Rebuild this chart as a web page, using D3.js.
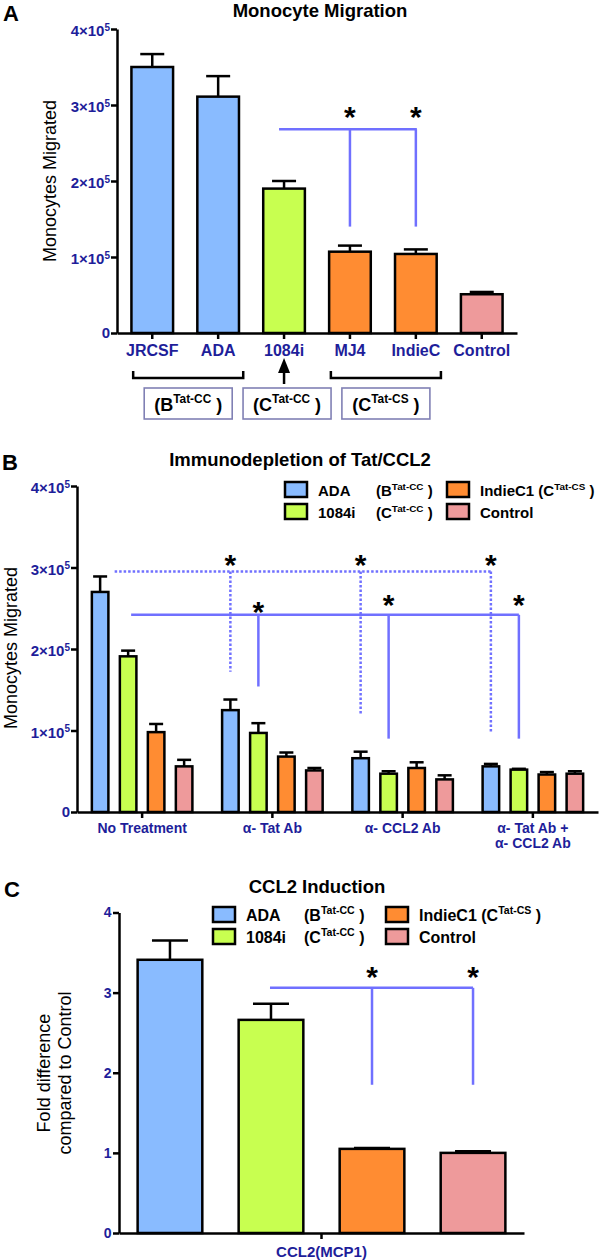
<!DOCTYPE html>
<html>
<head>
<meta charset="utf-8">
<script src="https://cdn.jsdelivr.net/npm/d3@7"></script>
<style>
  body { margin: 0; background: #fff; }
  svg { display: block; font-family: "Liberation Sans", Arial, Helvetica, sans-serif; }
</style>
</head>
<body>
<svg id="chart" width="600" height="1260"></svg>
<script>
// ---- panel A: monocyte migration per strain
const strainsA = ["JRCSF", "ADA", "1084i", "MJ4", "IndieC", "Control"];
const meanA = [3.50e5, 3.11e5, 1.90e5, 1.07e5, 1.04e5, 0.51e5];
const semA = [0.17e5, 0.27e5, 0.10e5, 0.08e5, 0.06e5, 0.03e5];
const ticksA = [0, 1e5, 2e5, 3e5, 4e5];
const subtypeGroupsA = [
  { first: "JRCSF", last: "ADA", base: "B", sup: "Tat-CC" },
  { first: "1084i", last: "1084i", base: "C", sup: "Tat-CC" },
  { first: "MJ4", last: "IndieC", base: "C", sup: "Tat-CS" }
];
const sigA = { from: "1084i", to: ["MJ4", "IndieC"], level: 2.68e5, drop: 1.40e5, star: 2.92e5 };

// ---- panel B: immunodepletion
const treatmentsB = ["No Treatment", "α- Tat Ab", "α- CCL2 Ab", "α- Tat Ab +|α- CCL2 Ab"];
const seriesB = ["ADA", "1084i", "IndieC1", "Control"];
const meanB = [
  [2.70e5, 1.91e5, 0.98e5, 0.56e5],
  [1.25e5, 0.97e5, 0.68e5, 0.51e5],
  [0.66e5, 0.47e5, 0.54e5, 0.40e5],
  [0.56e5, 0.52e5, 0.46e5, 0.47e5]
];
const semB = [
  [0.19e5, 0.07e5, 0.10e5, 0.08e5],
  [0.13e5, 0.12e5, 0.05e5, 0.03e5],
  [0.08e5, 0.03e5, 0.07e5, 0.05e5],
  [0.03e5, 0.01e5, 0.03e5, 0.03e5]
];
const ticksB = [0, 1e5, 2e5, 3e5, 4e5];
const sigDottedB = { series: "ADA", level: 2.95e5, drops: [1.72e5, 1.19e5, 0.97e5], star: 3.10e5 };
const sigSolidB = { series: "1084i", level: 2.42e5, drops: [1.54e5, 0.90e5, 0.90e5], stars: [2.53e5, 2.61e5, 2.61e5] };

// ---- panel C: CCL2 induction
const seriesC = ["ADA", "1084i", "IndieC1", "Control"];
const meanC = [3.41, 2.66, 1.05, 1.00];
const semC = [0.24, 0.20, 0.01, 0.02];
const ticksC = [0, 1, 2, 3, 4];
const categoryC = "CCL2(MCP1)";
const sigC = { from: "1084i", to: ["IndieC1", "Control"], level: 3.06, drop: 1.85, star: 3.27 };

// legend entries (B and C share them)
const legendTags = [
  { name: "ADA", base: "B", sup: "Tat-CC" },
  { name: "1084i", base: "C", sup: "Tat-CC" },
  { name: "IndieC1", base: "C", sup: "Tat-CS" },
  { name: "Control" }
];

const NAVY = "#1e1e9a";
const SIG = "#7070ff";
const fillOf = {
  JRCSF: "#89bbff", ADA: "#89bbff", "1084i": "#c8ff50",
  MJ4: "#ff8c32", IndieC: "#ff8c32", IndieC1: "#ff8c32", Control: "#ee9a9b"
};

const svg = d3.select("#chart");

function styleAxis(g, size) {
  g.attr("font-family", null).attr("font-size", null);
  g.select(".domain").attr("stroke", "#000").attr("stroke-width", 2.5);
  g.selectAll(".tick line").attr("stroke", "#000").attr("stroke-width", 2.5);
  g.selectAll(".tick text").attr("fill", NAVY).attr("font-weight", "bold").style("font-size", size + "px");
}

function sciLabels(g) {
  g.selectAll(".tick text").each(function (d) {
    if (d === 0) return;
    const t = d3.select(this).text(null).attr("dy", "0.45em");
    t.append("tspan").text(`${d / 1e5}×10`);
    t.append("tspan").style("font-size", "10px").attr("dy", "-0.55em").text("5");
  });
}

function tagText(sel, x, y, size, base, sup, anchor) {
  const t = sel.append("text")
    .attr("x", x).attr("y", y)
    .attr("font-size", size).attr("font-weight", "bold")
    .attr("text-anchor", anchor || "start");
  t.append("tspan").text(base);
  t.append("tspan").attr("font-size", size * 0.66).attr("dy", -size * 0.42).text(sup);
  t.append("tspan").attr("dy", size * 0.42).text(" )");
  return t;
}

function bars(g, data, y, capW) {
  g.selectAll("rect.bar").data(data).join("rect")
    .attr("class", "bar")
    .attr("x", d => d.x + 1.25)
    .attr("y", d => y(d.v))
    .attr("width", d => d.w - 2.5)
    .attr("height", d => y(0) - y(d.v))
    .attr("fill", d => fillOf[d.key])
    .attr("stroke", "#000")
    .attr("stroke-width", 2.5);
  const e = g.selectAll("g.err").data(data).join("g").attr("class", "err")
    .attr("stroke", "#000").attr("stroke-width", 2.5);
  e.append("line")
    .attr("x1", d => d.x + d.w / 2).attr("x2", d => d.x + d.w / 2)
    .attr("y1", d => y(d.v)).attr("y2", d => y(d.v + d.e));
  e.append("line")
    .attr("x1", d => d.x + d.w / 2 - capW / 2).attr("x2", d => d.x + d.w / 2 + capW / 2)
    .attr("y1", d => y(d.v + d.e)).attr("y2", d => y(d.v + d.e));
}

function star(g, x, y) {
  g.append("text").attr("x", x).attr("y", y + 16)
    .attr("text-anchor", "middle").attr("font-size", 30).attr("font-weight", "bold")
    .text("*");
}

function title(g, x, y, txt) {
  g.append("text").attr("x", x).attr("y", y).attr("text-anchor", "middle")
    .attr("font-size", 18.5).attr("font-weight", "bold").text(txt);
}

function panelLetter(g, x, y, txt) {
  g.append("text").attr("x", x).attr("y", y).attr("font-size", 22).attr("font-weight", "bold").text(txt);
}

function yTitle(g, x, y, lines) {
  const t = g.append("text").attr("transform", `translate(${x},${y}) rotate(-90)`)
    .attr("text-anchor", "middle").attr("font-size", 18);
  lines.forEach((l, i) => t.append("tspan").attr("x", 0).attr("dy", i ? 21 : 0).text(l));
}

function legend(g, x, y, colGap, nameGap, tagGap, size) {
  legendTags.forEach((d, i) => {
    const col = Math.floor(i / 2), row = i % 2;
    const gx = x + col * colGap, gy = y + row * 22;
    g.append("rect").attr("x", gx).attr("y", gy).attr("width", 22).attr("height", 15)
      .attr("fill", fillOf[d.name]).attr("stroke", "#000").attr("stroke-width", 2.5);
    if (!d.sup) {
      g.append("text").attr("x", gx + nameGap).attr("y", gy + 14).attr("font-size", size)
        .attr("font-weight", "bold").text(d.name);
    } else if (col === 0) {
      g.append("text").attr("x", gx + nameGap).attr("y", gy + 14).attr("font-size", size)
        .attr("font-weight", "bold").text(d.name);
      tagText(g, gx + tagGap, gy + 14, size, "(" + d.base, d.sup);
    } else {
      tagText(g, gx + nameGap, gy + 14, size, d.name + " (" + d.base, d.sup);
    }
  });
}

// ================= Panel A =================
const gA = svg.append("g");
panelLetter(gA, 3, 21, "A");
title(gA, 320, 17, "Monocyte Migration");

const yA = d3.scaleLinear().domain([0, 4e5]).range([333, 29]);
const xA = d3.scaleBand().domain(strainsA).range([117, 517]).paddingInner(0.33).paddingOuter(0.2);

bars(gA, strainsA.map((k, i) => ({ key: k, x: xA(k), w: xA.bandwidth(), v: meanA[i], e: semA[i] })), yA, 24);

gA.append("g").attr("transform", "translate(117,0)")
  .call(d3.axisLeft(yA).tickValues(ticksA).tickSize(6).tickSizeOuter(0).tickPadding(1))
  .call(g => styleAxis(g, 15)).call(sciLabels);
gA.append("g").attr("transform", "translate(0,333)")
  .call(d3.axisBottom(xA).tickSize(6).tickSizeOuter(0).tickPadding(6))
  .call(g => styleAxis(g, 16));
yTitle(gA, 56, 181, ["Monocytes Migrated"]);

// significance bracket A
{
  const cx = k => xA(k) + xA.bandwidth() / 2;
  const s = gA.append("g").attr("stroke", SIG).attr("stroke-width", 2.5).attr("fill", "none");
  s.append("line").attr("x1", cx(sigA.from) - 5).attr("x2", cx(sigA.to[1]) + 1)
    .attr("y1", yA(sigA.level)).attr("y2", yA(sigA.level));
  sigA.to.forEach(k => {
    s.append("line").attr("x1", cx(k)).attr("x2", cx(k)).attr("y1", yA(sigA.level)).attr("y2", yA(sigA.drop));
    star(gA, cx(k), yA(sigA.star));
  });
}

// subtype brackets under the axis
subtypeGroupsA.forEach(d => {
  const x0 = xA(d.first) + 3, x1 = xA(d.last) + xA.bandwidth() + 3;
  const mid = (xA(d.first) + xA(d.last) + xA.bandwidth()) / 2;
  if (d.first !== d.last) {
    gA.append("path").attr("d", `M${x0},371V378H${x1}V371`)
      .attr("fill", "none").attr("stroke", "#000").attr("stroke-width", 2.5);
  } else {
    gA.append("line").attr("x1", mid).attr("x2", mid).attr("y1", 384).attr("y2", 370)
      .attr("stroke", "#000").attr("stroke-width", 2.5);
    gA.append("path").attr("d", `M${mid},358L${mid + 6},373L${mid - 6},373Z`).attr("fill", "#000");
  }
  const bx = mid + 3;
  gA.append("rect").attr("x", bx - 44).attr("y", 388).attr("width", 88).attr("height", 31)
    .attr("fill", "none").attr("stroke", "#8080b4").attr("stroke-width", 1.6);
  tagText(gA, bx, 411, 18, "(" + d.base, d.sup, "middle");
});

// ================= Panel B =================
const gB = svg.append("g");
panelLetter(gB, 2, 470, "B");
title(gB, 300, 466, "Immunodepletion of Tat/CCL2");
legend(gB, 285, 482, 162, 33, 91, 15);

const yB = d3.scaleLinear().domain([0, 4e5]).range([812, 486]);
const x0B = d3.scaleBand().domain(treatmentsB).range([77, 598]);
const x1B = d3.scaleBand().domain(seriesB).range([0, x0B.bandwidth()]).paddingInner(0.32).paddingOuter(0.486);

const flatB = [];
treatmentsB.forEach((t, i) => seriesB.forEach((s, j) => {
  flatB.push({ key: s, x: x0B(t) + x1B(s), w: x1B.bandwidth(), v: meanB[i][j], e: semB[i][j] });
}));
bars(gB, flatB, yB, 14);

gB.append("g").attr("transform", "translate(77,0)")
  .call(d3.axisLeft(yB).tickValues(ticksB).tickSize(6).tickSizeOuter(0).tickPadding(1))
  .call(g => styleAxis(g, 15)).call(sciLabels);
gB.append("g").attr("transform", "translate(0,812)")
  .call(d3.axisBottom(x0B).tickSize(6).tickSizeOuter(0).tickPadding(5))
  .call(g => styleAxis(g, 14))
  .call(g => g.selectAll(".tick text").each(function (d) {
    const t = d3.select(this).text(null);
    d.split("|").forEach((l, i) => t.append("tspan").attr("x", 0).attr("dy", i ? "1.1em" : "0.71em").text(l));
  }).attr("dy", null));
yTitle(gB, 17, 648, ["Monocytes Migrated"]);

// significance lines B
{
  const cx = (t, s) => x0B(t) + x1B(s) + x1B.bandwidth() / 2;
  const dot = gB.append("g").attr("stroke", SIG).attr("stroke-width", 2.5).attr("stroke-dasharray", "2.5,2").attr("fill", "none");
  dot.append("line")
    .attr("x1", x0B(treatmentsB[0]) + x1B(sigDottedB.series) + x1B.bandwidth() + 5)
    .attr("x2", cx(treatmentsB[3], sigDottedB.series))
    .attr("y1", yB(sigDottedB.level)).attr("y2", yB(sigDottedB.level));
  const sol = gB.append("g").attr("stroke", SIG).attr("stroke-width", 2.5).attr("fill", "none");
  sol.append("line")
    .attr("x1", cx(treatmentsB[0], sigSolidB.series) + 3)
    .attr("x2", cx(treatmentsB[3], sigSolidB.series))
    .attr("y1", yB(sigSolidB.level)).attr("y2", yB(sigSolidB.level));
  treatmentsB.slice(1).forEach((t, i) => {
    const xd = cx(t, sigDottedB.series);
    dot.append("line").attr("x1", xd).attr("x2", xd).attr("y1", yB(sigDottedB.level)).attr("y2", yB(sigDottedB.drops[i]));
    star(gB, xd, yB(sigDottedB.star));
    const xs = cx(t, sigSolidB.series);
    sol.append("line").attr("x1", xs).attr("x2", xs).attr("y1", yB(sigSolidB.level)).attr("y2", yB(sigSolidB.drops[i]));
    star(gB, xs, yB(sigSolidB.stars[i]));
  });
}

// ================= Panel C =================
const gC = svg.append("g");
panelLetter(gC, 4, 897, "C");
title(gC, 317, 893, "CCL2 Induction");
legend(gC, 213, 907, 173, 33, 91, 16);

const yC = d3.scaleLinear().domain([0, 4]).range([1233, 912.5]);
const xC = d3.scaleBand().domain(seriesC).range([119, 524]).paddingInner(0.335).paddingOuter(0.172);
const xCat = d3.scaleBand().domain([categoryC]).range([119, 524]);

bars(gC, seriesC.map((k, i) => ({ key: k, x: xC(k), w: xC.bandwidth(), v: meanC[i], e: semC[i] })), yC, 36);

gC.append("g").attr("transform", "translate(119,0)")
  .call(d3.axisLeft(yC).tickValues(ticksC).tickFormat(d3.format("d")).tickSize(6).tickSizeOuter(0).tickPadding(1.5))
  .call(g => styleAxis(g, 14));
gC.append("g").attr("transform", "translate(0,1233)")
  .call(d3.axisBottom(xCat).tickSize(6).tickSizeOuter(0).tickPadding(7))
  .call(g => styleAxis(g, 15));
yTitle(gC, 50, 1073, ["Fold difference", "compared to Control"]);

{
  const cx = k => xC(k) + xC.bandwidth() / 2;
  const s = gC.append("g").attr("stroke", SIG).attr("stroke-width", 2.5).attr("fill", "none");
  s.append("line").attr("x1", cx(sigC.from) - 1).attr("x2", cx(sigC.to[1]))
    .attr("y1", yC(sigC.level)).attr("y2", yC(sigC.level));
  sigC.to.forEach(k => {
    s.append("line").attr("x1", cx(k)).attr("x2", cx(k)).attr("y1", yC(sigC.level)).attr("y2", yC(sigC.drop));
    star(gC, cx(k), yC(sigC.star));
  });
}
</script>
</body>
</html>
